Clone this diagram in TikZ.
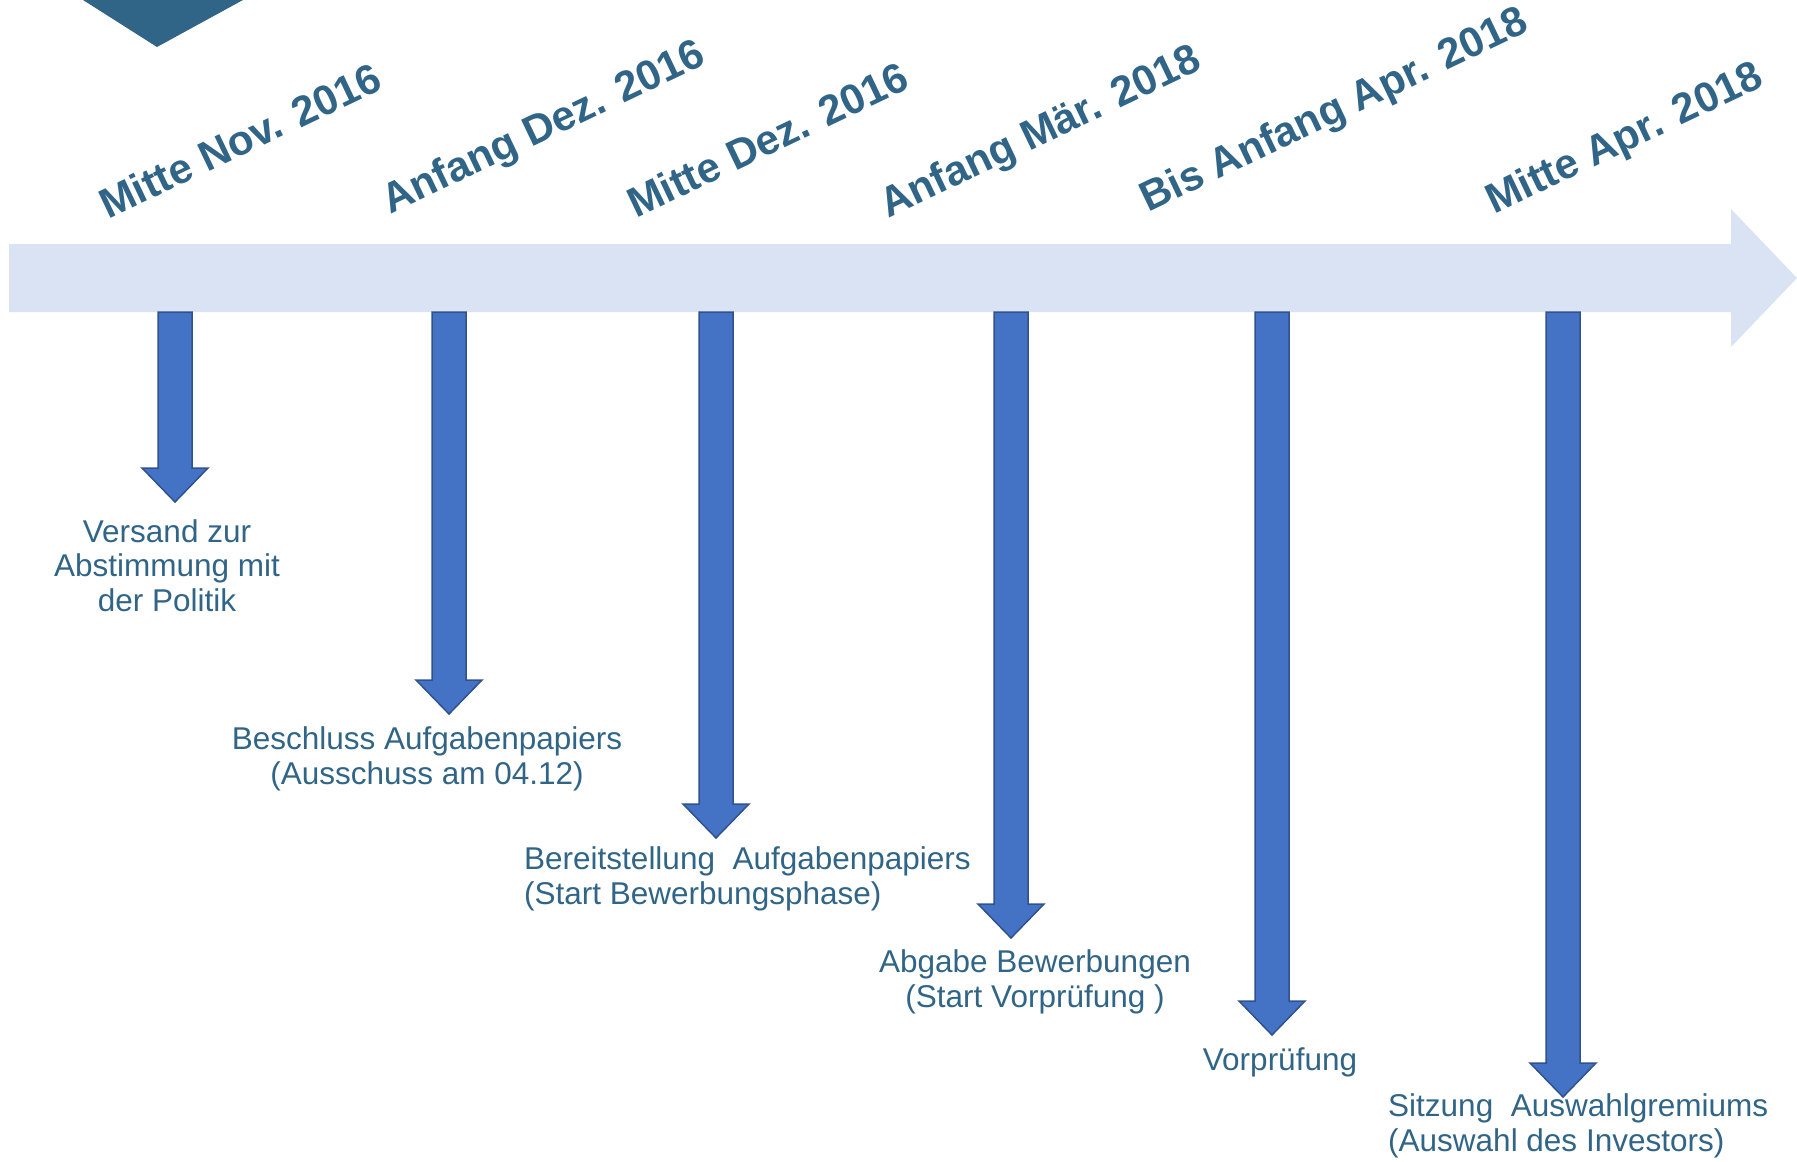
\documentclass[tikz,border=0pt]{standalone}
\usepackage{fontspec}
\setmainfont{Liberation Sans}
\definecolor{textc}{RGB}{49,101,135}
\definecolor{barc}{RGB}{218,227,243}
\definecolor{arrc}{RGB}{68,114,196}
\definecolor{arrd}{RGB}{47,82,143}
\begin{document}
\begin{tikzpicture}[x=1pt,y=-1pt,
  datelabel/.style={anchor=base west,inner sep=0pt,rotate=25.5,text=textc,font=\fontsize{42}{48}\selectfont\bfseries},
  eventlabel/.style={inner sep=0pt,text=textc,font=\fontsize{31.5}{34.5}\selectfont},
  blockarrow/.style={fill=arrc,draw=arrd,line width=1.5pt,line join=miter}]
\useasboundingbox (0,0) rectangle (1797,1162);
% top-left triangle
\fill[textc] (83,0) -- (243,0) -- (157,47) -- cycle;
% timeline arrow
\fill[barc] (9,244) -- (1731,244) -- (1731,209) -- (1797,278) -- (1731,347) -- (1731,312) -- (9,312) -- cycle;
% date labels
\node[datelabel] (d1) at (108,220) {Mitte Nov. 2016};
\node[datelabel] (d2) at (390,215) {Anfang Dez. 2016};
\node[datelabel] (d3) at (636,219) {Mitte Dez. 2016};
\node[datelabel] (d4) at (888,219) {Anfang Mär. 2018};
\node[datelabel] (d5) at (1148,213) {Bis Anfang Apr. 2018};
\node[datelabel] (d6) at (1494,215) {Mitte Apr. 2018};
% block arrows
\foreach \x/\t in {175/502,449/714,716/838,1011/938,1272/1035,1563/1097}{
  \draw[blockarrow] (\x-17,312) -- (\x-17,\t-34) -- (\x-33,\t-34) -- (\x,\t) -- (\x+33,\t-34) -- (\x+17,\t-34) -- (\x+17,312) -- cycle;
}
% event labels (anchor base = baseline of last line)
\node[eventlabel,anchor=base,align=center] (e1) at (167,611) {Versand zur\\Abstimmung mit\\der Politik};
\node[eventlabel,anchor=base,align=center] (e2) at (427,784) {Beschluss Aufgabenpapiers\\(Ausschuss am 04.12)};
\node[eventlabel,anchor=base west,align=left] (e3) at (524,904) {Bereitstellung\ \ Aufgabenpapiers\\(Start Bewerbungsphase)};
\node[eventlabel,anchor=base,align=center] (e4) at (1035,1007) {Abgabe Bewerbungen\\(Start Vorprüfung\ )};
\node[eventlabel,anchor=base] (e5) at (1280,1070) {Vorprüfung};
\node[eventlabel,anchor=base west,align=left] (e6) at (1388,1151) {Sitzung\ \ Auswahlgremiums\\(Auswahl des Investors)};
\end{tikzpicture}
\end{document}
